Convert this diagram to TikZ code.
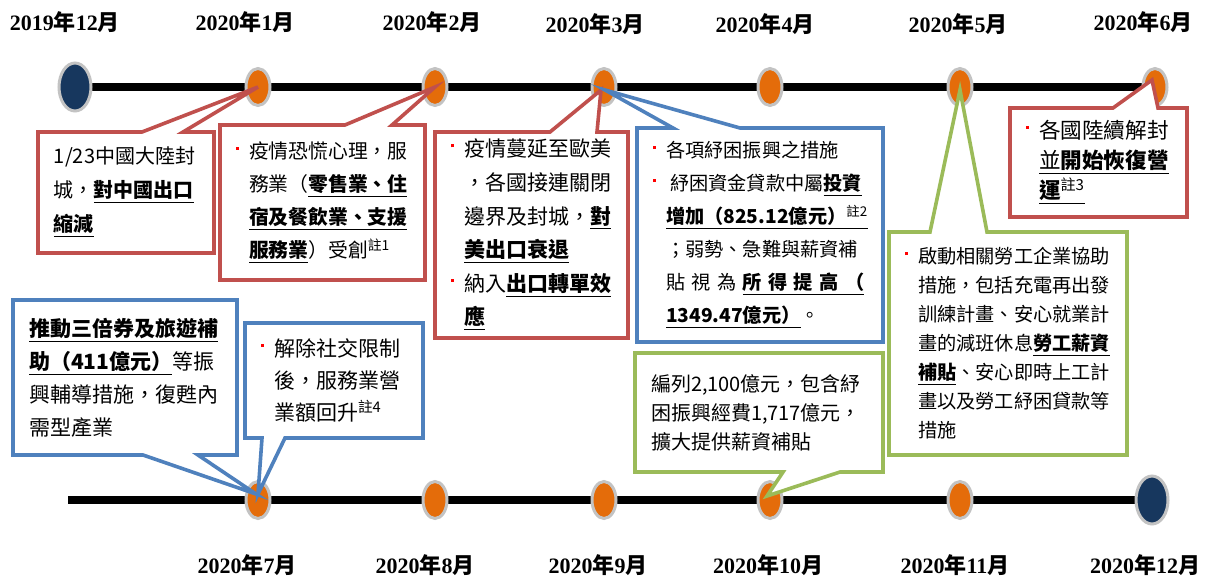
\documentclass[tikz,border=0pt]{standalone}
\usepackage{fontspec}
\setmainfont{Noto Sans CJK TC}
\newfontfamily\tnr{Liberation Serif}
\usetikzlibrary{shapes.geometric,calc}

\definecolor{calred}{HTML}{C0504D}
\definecolor{calblue}{HTML}{4F81BD}
\definecolor{calgreen}{HTML}{9BBB59}
\definecolor{dotorange}{HTML}{E46C0A}
\definecolor{endnavy}{HTML}{17375E}
\definecolor{ringgray}{HTML}{C3C3C3}
\definecolor{bulletred}{HTML}{FF0000}

\pgfdeclarelayer{rail}
\pgfdeclarelayer{dots}
\pgfdeclarelayer{call}
\pgfsetlayers{rail,dots,call,main}

\newcommand\bul{\makebox[6.5pt][l]{\textcolor{bulletred}{\raisebox{.45em}{\rule{1.5pt}{1.5pt}}}}}
\newcommand\bulind{\hspace*{6.5pt}}
\newcommand\ulb[1]{\underline{\textbf{#1}}}
\newcommand\zhu[1]{\textsuperscript{註#1}}
\newcommand\ym[2]{{\tnr #1}年{\tnr #2}月}

\tikzset{
  month/.style={ellipse,fill=dotorange,draw=ringgray,line width=1.5pt,
    minimum width=12pt,minimum height=18.5pt,inner sep=0pt},
  ends/.style={ellipse,fill=endnavy,draw=ringgray,line width=1.5pt,
    minimum width=16pt,minimum height=24pt,inner sep=0pt},
  rail/.style={line width=3.8pt,black},
  datelabel/.style={font=\fontsize{11}{13}\selectfont\bfseries},
  boxtext/.style={align=left,inner xsep=8pt,inner ysep=0pt,outer sep=0pt,
    font=\fontsize{10}{16.5}\selectfont},
  callout/.style={line width=1.8pt,fill=white,line join=miter},
  redcall/.style={callout,draw=calred},
  bluecall/.style={callout,draw=calblue},
  greencall/.style={callout,draw=calgreen}
}

\begin{document}
\begin{tikzpicture}[x=0.5pt,y=-0.5pt]
\useasboundingbox (0,0) rectangle (1205,584);

% first half of 2020
\begin{pgfonlayer}{dots}
\node[ends]  (dec19) at (75,87)   {};
\node[month] (jan)   at (258,87)  {};
\node[month] (feb)   at (435,87)  {};
\node[month] (mar)   at (604,87)  {};
\node[month] (apr)   at (770,87)  {};
\node[month] (may)   at (960,87)  {};
\node[month] (jun)   at (1155,87) {};
% second half of 2020
\coordinate (start) at (68,500);
\node[month] (jul)   at (258,500)  {};
\node[month] (aug)   at (435,500)  {};
\node[month] (sep)   at (604,500)  {};
\node[month] (oct)   at (770,500)  {};
\node[month] (nov)   at (960,500)  {};
\node[ends]  (dec20) at (1152,500) {};
\end{pgfonlayer}

\begin{pgfonlayer}{rail}
\draw[rail] (dec19.center) -- (jun.center);
\draw[rail] (start) -- (dec20.center);
\end{pgfonlayer}

\node[datelabel] (ldec19) at (65,22)   {\ym{2019}{12}};
\node[datelabel] (ljan)   at (245,22)  {\ym{2020}{1}};
\node[datelabel] (lfeb)   at (432,22)  {\ym{2020}{2}};
\node[datelabel] (lmar)   at (595,24)  {\ym{2020}{3}};
\node[datelabel] (lapr)   at (765,24)  {\ym{2020}{4}};
\node[datelabel] (lmay)   at (958,24)  {\ym{2020}{5}};
\node[datelabel] (ljun)   at (1143,22) {\ym{2020}{6}};
\node[datelabel] (ljul)   at (247,565) {\ym{2020}{7}};
\node[datelabel] (laug)   at (425,565) {\ym{2020}{8}};
\node[datelabel] (lsep)   at (598,565) {\ym{2020}{9}};
\node[datelabel] (loct)   at (768,565) {\ym{2020}{10}};
\node[datelabel] (lnov)   at (955,565) {\ym{2020}{11}};
\node[datelabel] (ldec20) at (1145,565) {\ym{2020}{12}};

% boxes
\node[boxtext,text width=72pt,minimum height=60.5pt,font=\fontsize{10}{17}\selectfont]
  (lock) at (126,192.5)
  {1/23中國大陸封\\城，\ulb{對中國出口}\\\ulb{縮減}};
\node[boxtext,text width=86.5pt,minimum height=77.5pt,font=\fontsize{9.9}{16.5}\selectfont]
  (panic) at (322.5,202.5)
  {\bul 疫情恐慌心理，服\\
   \bulind 務業（\ulb{零售業、住}\\
   \bulind \ulb{宿及餐飲業、支援}\\
   \bulind \ulb{服務業}）受創\zhu{1}};
\node[boxtext,text width=80.5pt,minimum height=103pt,font=\fontsize{10.5}{16.8}\selectfont]
  (spread) at (531.5,235)
  {\bul 疫情蔓延至歐美\\
   \bulind ，各國接連關閉\\
   \bulind 邊界及封城，\ulb{對}\\
   \bulind \ulb{美出口衰退}\\
   \bul 納入\ulb{出口轉單效}\\
   \bulind \ulb{應}};
\node[boxtext,text width=107pt,minimum height=107pt,font=\fontsize{9.6}{16.5}\selectfont]
  (relief) at (760,235)
  {\bul 各項紓困振興之措施\\
   \bul\hspace{2pt}紓困資金貸款中屬\ulb{投資}\\
   \bulind \underline{\textbf{增加（825.12億元）}\zhu{2}}\\
   \bulind ；弱勢、急難與薪資補\\
   \bulind 貼 視 為 \ulb{所 得 提 高 （}\\
   \bulind \ulb{1349.47億元）}。};
\node[boxtext,text width=72.5pt,minimum height=54.5pt,font=\fontsize{10.8}{15}\selectfont]
  (reopen) at (1098.5,162.5)
  {\bul 各國陸續解封\\
   \bulind \underline{並\textbf{開始恢復營}}\\
   \bulind \underline{\textbf{運}\zhu{3}}};
\node[boxtext,text width=103pt,minimum height=111.5pt,font=\fontsize{9.6}{14.5}\selectfont]
  (labour) at (1008,343.5)
  {\bul 啟動相關勞工企業協助\\
   \bulind 措施，包括充電再出發\\
   \bulind 訓練計畫、安心就業計\\
   \bulind 畫的減班休息\ulb{勞工薪資}\\
   \bulind \ulb{補貼}、安心即時上工計\\
   \bulind 畫以及勞工紓困貸款等\\
   \bulind 措施};
\node[boxtext,text width=96pt,minimum height=77.5pt,font=\fontsize{10.5}{16.5}\selectfont]
  (voucher) at (125,377.5)
  {\ulb{推動三倍券及旅遊補}\\
   \ulb{助（411億元）}等振\\
   興輔導措施，復甦內\\
   需型產業};
\node[boxtext,text width=73pt,minimum height=57.5pt,font=\fontsize{10.5}{16.2}\selectfont]
  (social) at (334,380.5)
  {\bul 解除社交限制\\
   \bulind 後，服務業營\\
   \bulind 業額回升\zhu{4}};
\node[boxtext,text width=108pt,minimum height=59.5pt,font=\fontsize{10}{14.5}\selectfont]
  (budget) at (759,412.5)
  {編列2,100億元，包含紓\\
   困振興經費1,717億元，\\
   擴大提供薪資補貼};

% callout outlines
\begin{pgfonlayer}{call}
\draw[redcall] (lock.north west) -- ($(lock.north west)+(104,0)$) -- (jan.center)
  -- ($(lock.north west)+(145,0)$) -- (lock.north east) -- (lock.south east)
  -- (lock.south west) -- cycle;
\draw[redcall] (panic.north west) -- ($(panic.north west)+(125,0)$) -- (feb.center)
  -- ($(panic.north west)+(172,0)$) -- (panic.north east) -- (panic.south east)
  -- (panic.south west) -- cycle;
\draw[redcall] (spread.north west) -- ($(spread.north west)+(115,0)$) -- ($(mar.center)+(-3,3)$)
  -- ($(spread.north west)+(162,0)$) -- (spread.north east) -- (spread.south east)
  -- (spread.south west) -- cycle;
\draw[bluecall] (relief.north west) -- ($(relief.north west)+(36,0)$) -- ($(mar.center)+(1,3)$)
  -- ($(relief.north west)+(103,0)$) -- (relief.north east) -- (relief.south east)
  -- (relief.south west) -- cycle;
\draw[redcall] (reopen.north west) -- ($(reopen.north west)+(103,0)$) -- ($(jun.center)+(-3,-7)$)
  -- ($(reopen.north west)+(148,0)$) -- (reopen.north east) -- (reopen.south east)
  -- (reopen.south west) -- cycle;
\draw[greencall] (labour.north west) -- ($(labour.north west)+(41,0)$) -- ($(may.center)+(0,3)$)
  -- ($(labour.north west)+(98,0)$) -- (labour.north east) -- (labour.south east)
  -- (labour.south west) -- cycle;
\draw[bluecall] (voucher.north west) -- (voucher.north east) -- (voucher.south east)
  -- ($(voucher.south west)+(185,0)$) -- ($(jul.center)+(-2,-6)$)
  -- ($(voucher.south west)+(130,0)$) -- (voucher.south west) -- cycle;
\draw[bluecall] (social.north west) -- (social.north east) -- (social.south east)
  -- ($(social.south west)+(40,0)$) -- ($(jul.center)+(0,-6)$)
  -- ($(social.south west)+(17,0)$) -- (social.south west) -- cycle;
\draw[greencall] (budget.north west) -- (budget.north east) -- (budget.south east)
  -- ($(budget.south west)+(205,0)$) -- ($(oct.center)+(-3,-4)$)
  -- ($(budget.south west)+(148,0)$) -- (budget.south west) -- cycle;
\end{pgfonlayer}
\end{tikzpicture}
\end{document}
